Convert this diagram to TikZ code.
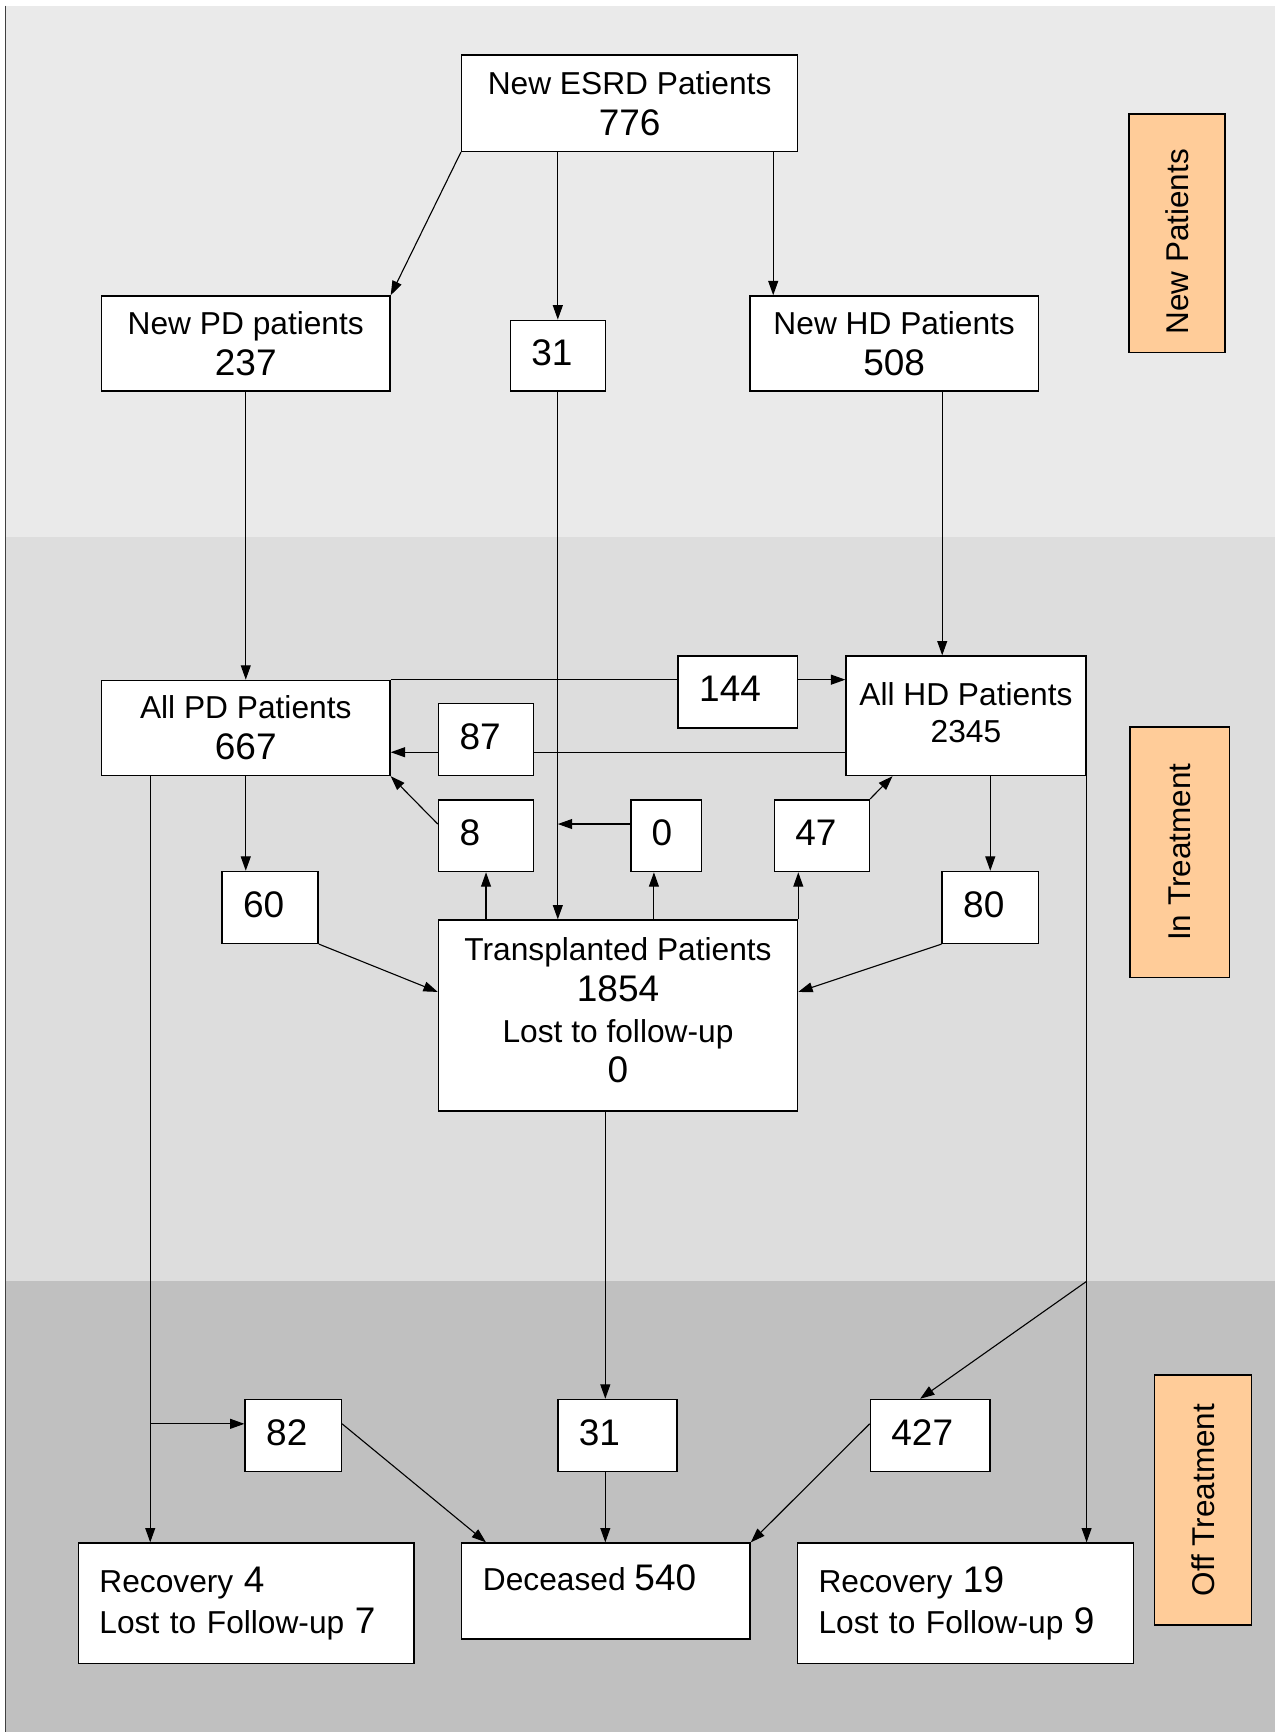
\documentclass[tikz,border=0pt]{standalone}
\usepackage{fontspec}
\setmainfont{Liberation Sans}
\usetikzlibrary{arrows.meta}
\definecolor{bgA}{HTML}{EAEAEA}
\definecolor{bgB}{HTML}{DDDDDD}
\definecolor{bgC}{HTML}{C0C0C0}
\definecolor{orng}{HTML}{FFCC99}
\newcommand\nfsz{\fontsize{33.5pt}{37pt}\selectfont}
\newcommand\dpup[1]{\rule[-#1]{0pt}{0pt}}
\begin{document}
\begin{tikzpicture}[x=1pt,y=-1pt,
  box/.style={draw=black, line width=1.4pt, fill=white, inner sep=0pt,
    font=\fontsize{28.7pt}{37pt}\selectfont, align=center},
  nbox/.style={box, align=left, inner xsep=19pt, font=\nfsz},
  lbox/.style={box, align=left, inner xsep=19pt},
  arr/.style={line width=1pt, -{Triangle[length=13pt,width=9pt]}},
  ln/.style={line width=1pt},
  lab/.style={draw=black, line width=1.4pt, fill=orng, inner sep=0pt},
  labt/.style={rotate=90, font=\fontsize{28.5pt}{34pt}\selectfont, inner sep=0pt}
]
\useasboundingbox (0,0) rectangle (1154,1568);
% bands
\fill[bgA] (5,5) rectangle (1154,486);
\fill[bgB] (5,486) rectangle (1154,1160);
\fill[bgC] (5,1160) rectangle (1154,1568);
\draw[line width=1pt, black!75] (5,5) -- (5,1568);

% helper coordinates
\coordinate (c700) at (700,0);
\coordinate (c853) at (853,0);
\coordinate (c681) at (0,681);
\coordinate (c746) at (0,746);
\coordinate (c592) at (592,0);
\coordinate (c808) at (808,0);
\coordinate (c898) at (0,898);
\coordinate (c136) at (136,0);
\coordinate (c1289) at (0,1289);
\coordinate (c548) at (548,0);
\coordinate (c1160) at (0,1160);
\coordinate (c833) at (833,0);
\coordinate (c440) at (440,0);

% nodes
\node[box, minimum width=304pt, minimum height=87pt] (esrd) at (570,93.5) {New ESRD Patients\\{\nfsz 776}};
\node[box, minimum width=261pt, minimum height=86pt] (newpd) at (222.5,311) {New PD patients\\{\nfsz 237}};
\node[nbox, text width=48pt, minimum height=64pt] (t31) at (505,322) {31\dpup{6pt}};
\node[box, minimum width=261pt, minimum height=86pt] (newhd) at (809.5,311) {New HD Patients\\{\nfsz 508}};

\node[box, minimum width=261pt, minimum height=86pt] (allpd) at (222.5,659) {All PD Patients\\{\nfsz 667}};
\node[nbox, text width=70pt, minimum height=65pt] (n144) at (668,626.5) {144\dpup{6pt}};
\node[box, minimum width=217pt, minimum height=108pt] (allhd) at (874.5,648) {All HD Patients\\[-4pt]2345\dpup{6pt}};
\node[nbox, text width=48pt, minimum height=65pt] (n87) at (440,669.5) {87\dpup{6pt}};
\node[nbox, text width=48pt, minimum height=65pt] (n8) at (440,756.5) {8\dpup{6pt}};
\node[nbox, text width=26pt, minimum height=65pt] (n0) at (603,756.5) {0\dpup{6pt}};
\node[nbox, text width=48pt, minimum height=65pt] (n47) at (744,756.5) {47\dpup{6pt}};
\node[nbox, text width=49pt, minimum height=65pt] (n60) at (244.5,821.5) {60\dpup{6pt}};
\node[nbox, text width=49pt, minimum height=65pt] (n80) at (896.5,821.5) {80\dpup{6pt}};
\node[box, minimum width=325pt, minimum height=173pt] (tx) at (559.5,919.5) {Transplanted Patients\\{\nfsz 1854}\\Lost to follow-up\\{\nfsz 0}\dpup{10pt}};

\node[nbox, text width=49pt, minimum height=65pt] (n82) at (265.5,1299.5) {82\dpup{6pt}};
\node[nbox, text width=70pt, minimum height=65pt] (b31) at (559,1299.5) {31\dpup{6pt}};
\node[nbox, text width=70pt, minimum height=65pt] (n427) at (842,1299.5) {427\dpup{6pt}};

\node[lbox, text width=266pt, minimum height=109pt] (recl) at (223,1451.5) {Recovery {\nfsz 4}\\Lost to Follow-up {\nfsz 7}};
\node[box, minimum width=261pt, minimum height=87pt] (dec) at (548.5,1440.5) {};
\node[anchor=west, inner sep=0pt, font=\fontsize{28.7pt}{37pt}\selectfont] (dect) at (437,1428) {Deceased {\nfsz 540}};
\node[lbox, text width=266pt, minimum height=109pt] (recr) at (874,1451.5) {Recovery {\nfsz 19}\\Lost to Follow-up {\nfsz 9}};

% side labels
\node[lab, minimum width=87pt, minimum height=216pt] (lnp) at (1065.5,211) {};
\node[labt] (lnpt) at (1066,219) {New Patients};
\node[lab, minimum width=90pt, minimum height=227pt] (lit) at (1068,771.5) {};
\node[labt] (litt) at (1068,771.5) {In Treatment};
\node[lab, minimum width=88pt, minimum height=226pt] (lot) at (1089,1358) {};
\node[labt] (lott) at (1089,1358) {Off Treatment};

% connectors
\draw[arr] (esrd.south west) -- (newpd.north east);
\draw[arr] (t31.north |- esrd.south) -- (t31.north);
\draw[arr] (esrd.south -| c700) -- (newhd.north -| c700);
\draw[arr] (newpd.south) -- (allpd.north);
\draw[arr] (t31.south) -- (tx.north -| t31.south);
\draw[arr] (newhd.south -| c853) -- (allhd.north -| c853);
\draw[ln] (allpd.north east) -- (n144.west |- allpd.north);
\draw[arr] (n144.east |- allpd.north) -- (allhd.west |- allpd.north);
\draw[ln] (allhd.west |- c681) -- (n87.east |- c681);
\draw[arr] (n87.west |- c681) -- (allpd.east |- c681);
\draw[arr] (n8.west |- c746) -- (allpd.south east);
\draw[arr] (tx.north -| n8.south) -- (n8.south);
\draw[arr] (n0.west |- c746) -- (t31.south |- c746);
\draw[arr] (tx.north -| c592) -- (n0.south -| c592);
\draw[arr] (tx.north east) -- (n47.south -| tx.north east);
\draw[arr] (n47.north east) -- (allhd.south -| c808);
\draw[arr] (allpd.south) -- (n60.north -| allpd.south);
\draw[arr] (n60.south east) -- (tx.west |- c898);
\draw[arr] (n80.north |- allhd.south) -- (n80.north);
\draw[arr] (n80.south west) -- (tx.east |- c898);
\draw[arr] (allpd.south -| c136) -- (recl.north -| c136);
\draw[arr] (c136 |- c1289) -- (n82.west |- c1289);
\draw[arr] (tx.south -| c548) -- (b31.north -| c548);
\draw[arr] (allhd.south east) -- (recr.north -| allhd.south east);
\draw[arr] (allhd.south east |- c1160) -- (n427.north -| c833);
\draw[arr] (n82.east |- c1289) -- (dec.north -| c440);
\draw[arr] (b31.south -| c548) -- (dec.north -| c548);
\draw[arr] (n427.west |- c1289) -- (dec.north east);
\end{tikzpicture}
\end{document}
